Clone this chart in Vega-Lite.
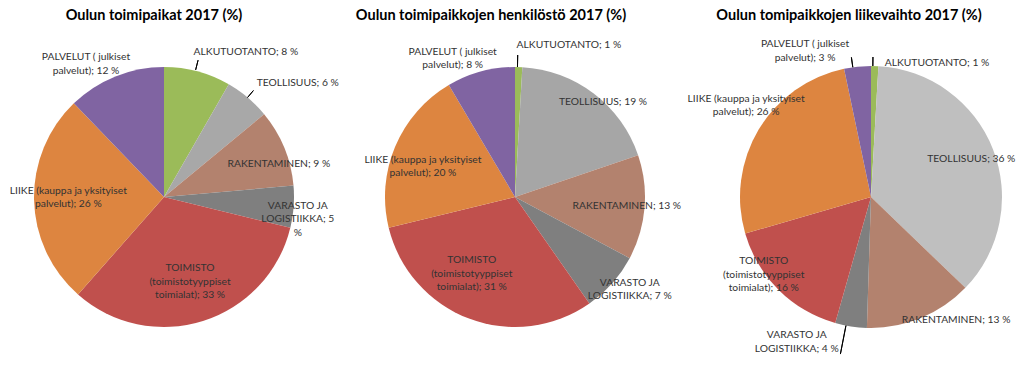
{
  "$schema": "https://vega.github.io/schema/vega-lite/v6.json",
  "padding": {"left": 9, "top": 7, "right": 0, "bottom": 0},
  "bounds": "flush",
  "spacing": 56,
  "background": "#ffffff",
  "config": {
    "view": {"stroke": null},
    "text": {"font": "Lato", "fontSize": 10.3, "fill": "#333333", "align": "center", "baseline": "middle", "lineBreak": "\n", "lineHeight": 13.5, "dy": 2},
    "title": {"font": "Lato", "fontSize": 14.5, "fontWeight": "bold", "color": "#000000", "anchor": "middle"}
  },
  "resolve": {"scale": {"color": "independent", "theta": "independent"}},
  "datasets": {
    "d": [
      {"chart": "toimipaikat", "category": "Alkutuotanto", "ord": 1, "value": 8.3, "label": "ALKUTUOTANTO; 8 %"},
      {"chart": "toimipaikat", "category": "Teollisuus", "ord": 2, "value": 5.7, "label": "TEOLLISUUS; 6 %"},
      {"chart": "toimipaikat", "category": "Rakentaminen", "ord": 3, "value": 9.6, "label": "RAKENTAMINEN; 9 %"},
      {"chart": "toimipaikat", "category": "Varasto", "ord": 4, "value": 5.2, "label": "VARASTO JA\nLOGISTIIKKA; 5\n%"},
      {"chart": "toimipaikat", "category": "Toimisto", "ord": 5, "value": 32.7, "label": "TOIMISTO\n(toimistotyyppiset\ntoimialat); 33 %"},
      {"chart": "toimipaikat", "category": "Liike", "ord": 6, "value": 26.3, "label": "LIIKE (kauppa ja yksityiset\npalvelut); 26 %"},
      {"chart": "toimipaikat", "category": "Palvelut", "ord": 7, "value": 12.2, "label": "PALVELUT ( julkiset\npalvelut); 12 %"},
      {"chart": "henkilosto", "category": "Alkutuotanto", "ord": 1, "value": 0.9, "label": "ALKUTUOTANTO; 1 %"},
      {"chart": "henkilosto", "category": "Teollisuus", "ord": 2, "value": 18.9, "label": "TEOLLISUUS; 19 %"},
      {"chart": "henkilosto", "category": "Rakentaminen", "ord": 3, "value": 13.0, "label": "RAKENTAMINEN; 13 %"},
      {"chart": "henkilosto", "category": "Varasto", "ord": 4, "value": 7.5, "label": "VARASTO JA\nLOGISTIIKKA; 7 %"},
      {"chart": "henkilosto", "category": "Toimisto", "ord": 5, "value": 30.9, "label": "TOIMISTO\n(toimistotyyppiset\ntoimialat); 31 %"},
      {"chart": "henkilosto", "category": "Liike", "ord": 6, "value": 20.3, "label": "LIIKE (kauppa ja yksityiset\npalvelut); 20 %"},
      {"chart": "henkilosto", "category": "Palvelut", "ord": 7, "value": 8.5, "label": "PALVELUT ( julkiset\npalvelut); 8 %"},
      {"chart": "liikevaihto", "category": "Alkutuotanto", "ord": 1, "value": 0.9, "label": "ALKUTUOTANTO; 1 %"},
      {"chart": "liikevaihto", "category": "Teollisuus", "ord": 2, "value": 36.3, "label": "TEOLLISUUS; 36 %"},
      {"chart": "liikevaihto", "category": "Rakentaminen", "ord": 3, "value": 13.3, "label": "RAKENTAMINEN; 13 %"},
      {"chart": "liikevaihto", "category": "Varasto", "ord": 4, "value": 3.9, "label": "VARASTO JA\nLOGISTIIKKA; 4 %"},
      {"chart": "liikevaihto", "category": "Toimisto", "ord": 5, "value": 16.1, "label": "TOIMISTO\n(toimistotyyppiset\ntoimialat); 16 %"},
      {"chart": "liikevaihto", "category": "Liike", "ord": 6, "value": 26.2, "label": "LIIKE (kauppa ja yksityiset\npalvelut); 26 %"},
      {"chart": "liikevaihto", "category": "Palvelut", "ord": 7, "value": 3.3, "label": "PALVELUT ( julkiset\npalvelut); 3 %"}
    ]
  },
  "hconcat": [
    {
      "width": 290, "height": 340,
      "title": {"text": "Oulun toimipaikat 2017 (%)", "dx": -10},
      "data": {"name": "d"},
      "transform": [
        {"filter": "datum.chart === 'toimipaikat'"},
        {"stack": "value", "groupby": [], "sort": [{"field": "ord", "order": "ascending"}], "as": ["s0", "s1"]}
      ],
      "layer": [
        {"mark": {"type": "arc", "radius": 130},
         "encoding": {
           "theta": {"field": "value", "type": "quantitative", "stack": true},
           "order": {"field": "ord", "type": "quantitative"},
           "color": {"field": "category", "type": "nominal", "legend": null,
             "scale": {"domain": ["Alkutuotanto", "Teollisuus", "Rakentaminen", "Varasto", "Toimisto", "Liike", "Palvelut"],
                       "range": ["#9BBB59", "#A8A8A8", "#B3826E", "#7F7F7F", "#C0504D", "#DD8540", "#8064A2"]}}}},
        {"transform": [{"filter": "datum.category === 'Alkutuotanto'"}],
         "mark": {"type": "arc", "radius": 141, "radius2": 131, "thetaOffset": 0.244, "theta2Offset": 0.244, "filled": false, "stroke": "#000000", "strokeWidth": 1},
         "encoding": {"theta": {"field": "s0", "type": "quantitative"}, "theta2": {"field": "s0"}}},
        {"transform": [{"filter": "datum.category === 'Teollisuus'"}],
         "mark": {"type": "arc", "radius": 139, "radius2": 130, "thetaOffset": 0.177, "theta2Offset": 0.177, "filled": false, "stroke": "#000000", "strokeWidth": 1},
         "encoding": {"theta": {"field": "s0", "type": "quantitative"}, "theta2": {"field": "s0"}}},
        {"transform": [{"filter": "datum.category === 'Alkutuotanto'"}],
         "mark": {"type": "text", "radius": 168, "thetaOffset": 0.509},
         "encoding": {"theta": {"field": "s0", "type": "quantitative"}, "text": {"field": "label"}}},
        {"transform": [{"filter": "datum.category === 'Teollisuus'"}],
         "mark": {"type": "text", "radius": 177, "thetaOffset": 0.335},
         "encoding": {"theta": {"field": "s0", "type": "quantitative"}, "text": {"field": "label"}}},
        {"transform": [{"filter": "datum.category === 'Rakentaminen'"}],
         "mark": {"type": "text", "radius": 120, "thetaOffset": 0.396},
         "encoding": {"theta": {"field": "s0", "type": "quantitative"}, "text": {"field": "label"}}},
        {"transform": [{"filter": "datum.category === 'Varasto'"}],
         "mark": {"type": "text", "radius": 134, "thetaOffset": 0.140},
         "encoding": {"theta": {"field": "s0", "type": "quantitative"}, "text": {"field": "label"}}},
        {"transform": [{"filter": "datum.category === 'Toimisto'"}],
         "mark": {"type": "text", "radius": 74, "thetaOffset": 0.972},
         "encoding": {"theta": {"field": "s0", "type": "quantitative"}, "text": {"field": "label"}}},
        {"transform": [{"filter": "datum.category === 'Liike'"}],
         "mark": {"type": "text", "radius": 96, "thetaOffset": 0.932},
         "encoding": {"theta": {"field": "s0", "type": "quantitative"}, "text": {"field": "label"}}},
        {"transform": [{"filter": "datum.category === 'Palvelut'"}],
         "mark": {"type": "text", "radius": 162, "thetaOffset": 0.264},
         "encoding": {"theta": {"field": "s0", "type": "quantitative"}, "text": {"field": "label"}}}
      ]
    },
    {
      "width": 300, "height": 340,
      "title": {"text": "Oulun toimipaikkojen henkilöstö 2017 (%)", "dx": -24},
      "data": {"name": "d"},
      "transform": [
        {"filter": "datum.chart === 'henkilosto'"},
        {"stack": "value", "groupby": [], "sort": [{"field": "ord", "order": "ascending"}], "as": ["s0", "s1"]}
      ],
      "layer": [
        {"mark": {"type": "arc", "radius": 130},
         "encoding": {
           "theta": {"field": "value", "type": "quantitative", "stack": true},
           "order": {"field": "ord", "type": "quantitative"},
           "color": {"field": "category", "type": "nominal", "legend": null,
             "scale": {"domain": ["Alkutuotanto", "Teollisuus", "Rakentaminen", "Varasto", "Toimisto", "Liike", "Palvelut"],
                       "range": ["#9BBB59", "#A6A6A6", "#B3826E", "#7F7F7F", "#C0504D", "#DD8540", "#8064A2"]}}}},
        {"transform": [{"filter": "datum.category === 'Alkutuotanto'"}],
         "mark": {"type": "arc", "radius": 142, "radius2": 130, "thetaOffset": 0.019, "theta2Offset": 0.019, "filled": false, "stroke": "#000000", "strokeWidth": 1},
         "encoding": {"theta": {"field": "s0", "type": "quantitative"}, "theta2": {"field": "s0"}}},
        {"transform": [{"filter": "datum.category === 'Alkutuotanto'"}],
         "mark": {"type": "text", "radius": 163, "thetaOffset": 0.337},
         "encoding": {"theta": {"field": "s0", "type": "quantitative"}, "text": {"field": "label"}}},
        {"transform": [{"filter": "datum.category === 'Teollisuus'"}],
         "mark": {"type": "text", "radius": 131, "thetaOffset": 0.680},
         "encoding": {"theta": {"field": "s0", "type": "quantitative"}, "text": {"field": "label"}}},
        {"transform": [{"filter": "datum.category === 'Rakentaminen'"}],
         "mark": {"type": "text", "radius": 112, "thetaOffset": 0.389},
         "encoding": {"theta": {"field": "s0", "type": "quantitative"}, "text": {"field": "label"}}},
        {"transform": [{"filter": "datum.category === 'Varasto'"}],
         "mark": {"type": "text", "radius": 142, "thetaOffset": 0.140},
         "encoding": {"theta": {"field": "s0", "type": "quantitative"}, "text": {"field": "label"}}},
        {"transform": [{"filter": "datum.category === 'Toimisto'"}],
         "mark": {"type": "text", "radius": 75, "thetaOffset": 1.224},
         "encoding": {"theta": {"field": "s0", "type": "quantitative"}, "text": {"field": "label"}}},
        {"transform": [{"filter": "datum.category === 'Liike'"}],
         "mark": {"type": "text", "radius": 100, "thetaOffset": 0.640},
         "encoding": {"theta": {"field": "s0", "type": "quantitative"}, "text": {"field": "label"}}},
        {"transform": [{"filter": "datum.category === 'Palvelut'"}],
         "mark": {"type": "text", "radius": 160, "thetaOffset": 0.134},
         "encoding": {"theta": {"field": "s0", "type": "quantitative"}, "text": {"field": "label"}}}
      ]
    },
    {
      "width": 300, "height": 340,
      "title": {"text": "Oulun tomipaikkojen liikevaihto 2017 (%)", "dx": -22},
      "data": {"name": "d"},
      "transform": [
        {"filter": "datum.chart === 'liikevaihto'"},
        {"stack": "value", "groupby": [], "sort": [{"field": "ord", "order": "ascending"}], "as": ["s0", "s1"]}
      ],
      "layer": [
        {"mark": {"type": "arc", "radius": 131},
         "encoding": {
           "theta": {"field": "value", "type": "quantitative", "stack": true},
           "order": {"field": "ord", "type": "quantitative"},
           "color": {"field": "category", "type": "nominal", "legend": null,
             "scale": {"domain": ["Alkutuotanto", "Teollisuus", "Rakentaminen", "Varasto", "Toimisto", "Liike", "Palvelut"],
                       "range": ["#9BBB59", "#BFBFBF", "#B3826E", "#7F7F7F", "#C0504D", "#DD8540", "#8064A2"]}}}},
        {"transform": [{"filter": "datum.category === 'Alkutuotanto'"}],
         "mark": {"type": "arc", "radius": 140, "radius2": 131, "thetaOffset": 0.014, "theta2Offset": 0.014, "filled": false, "stroke": "#000000", "strokeWidth": 1},
         "encoding": {"theta": {"field": "s0", "type": "quantitative"}, "theta2": {"field": "s0"}}},
        {"transform": [{"filter": "datum.category === 'Palvelut'"}],
         "mark": {"type": "arc", "radius": 141, "radius2": 131, "thetaOffset": 0.068, "theta2Offset": 0.068, "filled": false, "stroke": "#000000", "strokeWidth": 1},
         "encoding": {"theta": {"field": "s0", "type": "quantitative"}, "theta2": {"field": "s0"}}},
        {"transform": [{"filter": "datum.category === 'Varasto'"}],
         "mark": {"type": "arc", "radius": 160, "radius2": 131, "thetaOffset": 0.161, "theta2Offset": 0.161, "filled": false, "stroke": "#000000", "strokeWidth": 1},
         "encoding": {"theta": {"field": "s0", "type": "quantitative"}, "theta2": {"field": "s0"}}},
        {"transform": [{"filter": "datum.category === 'Alkutuotanto'"}],
         "mark": {"type": "text", "radius": 151, "thetaOffset": 0.452},
         "encoding": {"theta": {"field": "s0", "type": "quantitative"}, "text": {"field": "label"}}},
        {"transform": [{"filter": "datum.category === 'Teollisuus'"}],
         "mark": {"type": "text", "radius": 108, "thetaOffset": 1.134},
         "encoding": {"theta": {"field": "s0", "type": "quantitative"}, "text": {"field": "label"}}},
        {"transform": [{"filter": "datum.category === 'Rakentaminen'"}],
         "mark": {"type": "text", "radius": 148, "thetaOffset": 0.192},
         "encoding": {"theta": {"field": "s0", "type": "quantitative"}, "text": {"field": "label"}}},
        {"transform": [{"filter": "datum.category === 'Varasto'"}],
         "mark": {"type": "text", "radius": 155, "thetaOffset": 0.468},
         "encoding": {"theta": {"field": "s0", "type": "quantitative"}, "text": {"field": "label"}}},
        {"transform": [{"filter": "datum.category === 'Toimisto'"}],
         "mark": {"type": "text", "radius": 124, "thetaOffset": 0.769},
         "encoding": {"theta": {"field": "s0", "type": "quantitative"}, "text": {"field": "label"}}},
        {"transform": [{"filter": "datum.category === 'Liike'"}],
         "mark": {"type": "text", "radius": 160, "thetaOffset": 0.958},
         "encoding": {"theta": {"field": "s0", "type": "quantitative"}, "text": {"field": "label"}}},
        {"transform": [{"filter": "datum.category === 'Palvelut'"}],
         "mark": {"type": "text", "radius": 168, "thetaOffset": -0.196},
         "encoding": {"theta": {"field": "s0", "type": "quantitative"}, "text": {"field": "label"}}}
      ]
    }
  ]
}
